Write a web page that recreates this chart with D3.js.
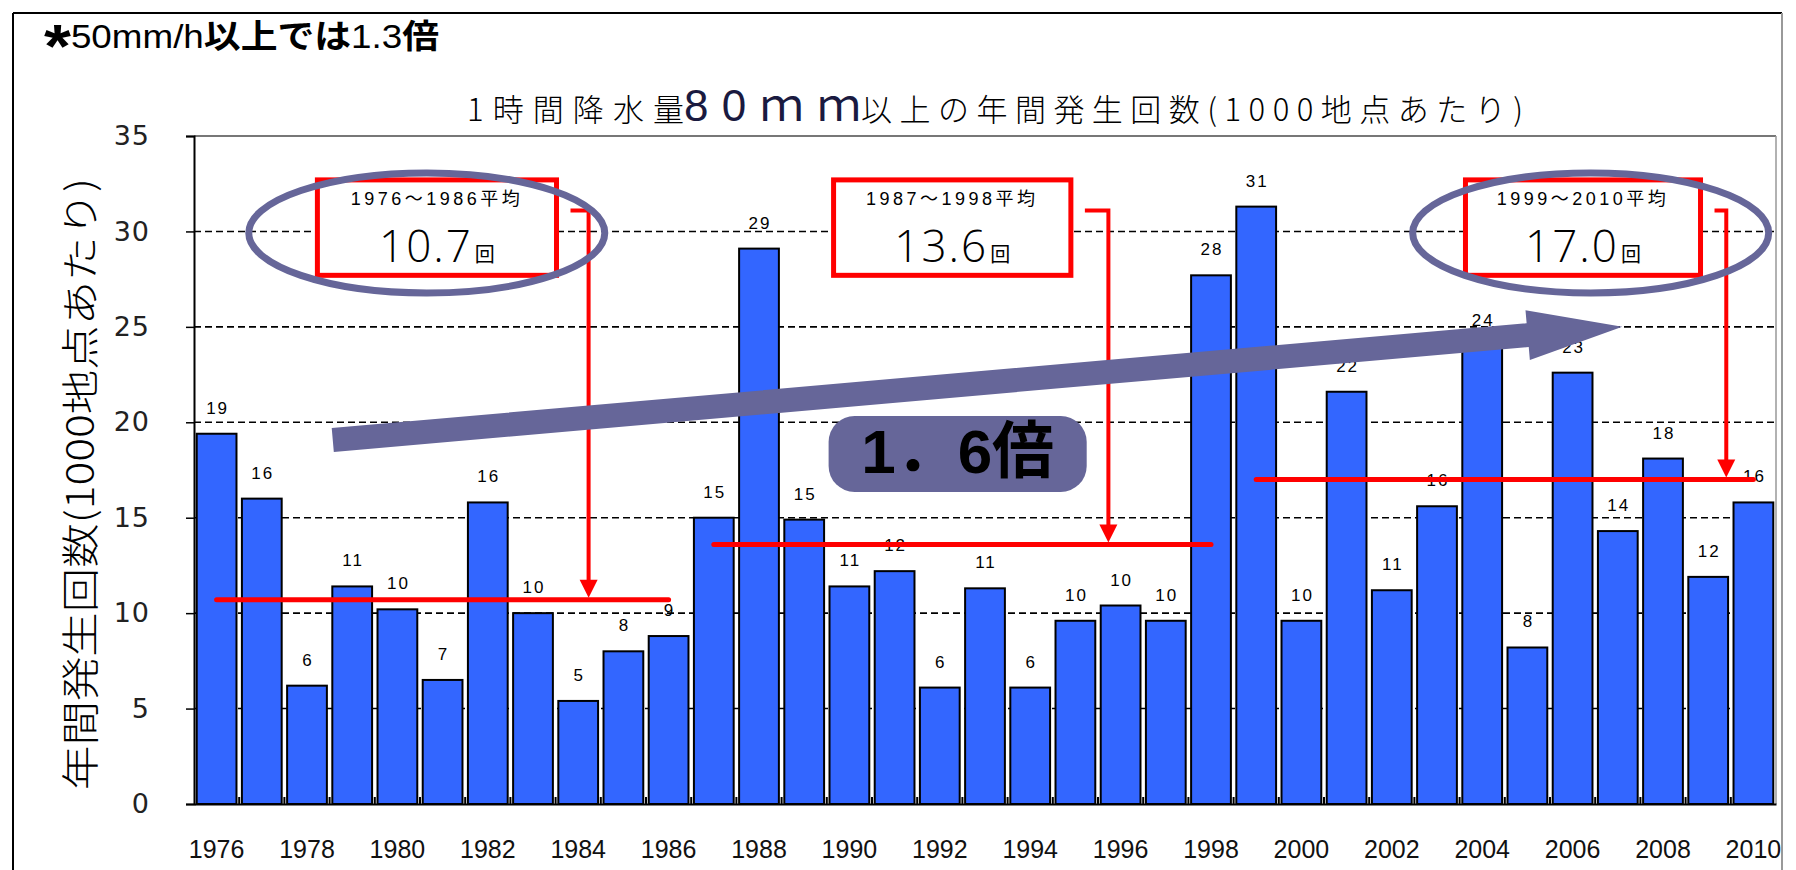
<!DOCTYPE html>
<html><head><meta charset="utf-8">
<script src="https://cdn.jsdelivr.net/npm/d3@7"></script>
<style>body{margin:0;background:#fff;overflow:hidden}</style>
</head><body><svg id="c" width="1796" height="870"></svg>
<script>
// ---------------- data ----------------
const years = [1976,1977,1978,1979,1980,1981,1982,1983,1984,1985,1986,1987,1988,1989,1990,1991,1992,1993,1994,1995,1996,1997,1998,1999,2000,2001,2002,2003,2004,2005,2006,2007,2008,2009,2010];
const values = [19.4,16.0,6.2,11.4,10.2,6.5,15.8,10.0,5.4,8.0,8.8,15.0,29.1,14.9,11.4,12.2,6.1,11.3,6.1,9.6,10.4,9.6,27.7,31.3,9.6,21.6,11.2,15.6,24.0,8.2,22.6,14.3,18.1,11.9,15.8];
const yTicks = [0,5,10,15,20,25,30,35];
const xTickYears = [1976,1978,1980,1982,1984,1986,1988,1990,1992,1994,1996,1998,2000,2002,2004,2006,2008,2010];
const periodLabels = ["1976～1986平均","1987～1998平均","1999～2010平均"];
const periodFrom = [1976,1987,1999];
const periodTo = [1986,1998,2010];
const periodAvg = [10.7,13.6,17.0];
const periodAvgText = ["10.7","13.6","17.0"];
const trendFrom = [1978.57,19.07];   // [year, value]
const trendTo = [2007.1,25.0];
const ratioText = "1．6倍";
const titleParts = ["1時間降水量","80ｍｍ","以上の年間発生回数(1000地点あたり)"];
const yLabel = "年間発生回数(1000地点あたり)";

// ---------------- layout (positions, not data) ----------------
const W = 1796, H = 870;
const plot = {left:194, right:1776, top:136, bottom:804};
const boxYears = [[1978.23,1983.52],[1989.65,1994.9],[2003.63,2008.83]];
const boxVals = [32.7,27.7];
const bentX = [1984.23,1995.73,2009.4];
const bentTopVal = 31.1;
const ellipseCenters = [[1980.65,29.92],[2006.4,29.92]];
const ratioBox = {y0:1989.54,y1:1995.25,v0:20.33,v1:16.35};

const svg = d3.select("#c");
const x = d3.scaleBand().domain(years).range([plot.left, plot.right]).paddingInner(0.12).paddingOuter(0.06);
const y = d3.scaleLinear().domain([0,35]).range([plot.bottom, plot.top]);
const bw = x.bandwidth();
const xc = d3.scaleLinear().domain([years[0], years[years.length-1]]).range([x(years[0])+bw/2, x(years[years.length-1])+bw/2]);

const PURPLE = "#666699", RED = "#ff0000", BLUE = "#3366ff";

// outer frame
svg.append("line").attr("x1",13).attr("y1",13).attr("x2",13).attr("y2",H).attr("stroke","#000").attr("stroke-width",2);
svg.append("line").attr("x1",13).attr("y1",13).attr("x2",1782).attr("y2",13).attr("stroke","#000").attr("stroke-width",2);
svg.append("line").attr("x1",1782).attr("y1",13).attr("x2",1782).attr("y2",H).attr("stroke","#999").attr("stroke-width",2);

// note
const note = svg.append("text").attr("x",44).attr("y",48).attr("font-family","Liberation Sans, Noto Sans CJK JP").attr("fill","#000")
  .attr("textLength",395).attr("lengthAdjust","spacingAndGlyphs");
note.append("tspan").attr("font-size",62).attr("font-weight","bold").attr("dy",19).text("*");
note.append("tspan").attr("font-size",33).attr("dy",-19).text("50mm/h");
note.append("tspan").attr("font-size",33).attr("font-weight","bold").attr("font-family","Noto Sans CJK JP").text("以上では");
note.append("tspan").attr("font-size",33).text("1.3");
note.append("tspan").attr("font-size",33).attr("font-weight","bold").attr("font-family","Noto Sans CJK JP").text("倍");

// title
const tSeg = [[467,684,31],[684,861,44],[861,1523,31]];
titleParts.forEach((t,i)=>{
  svg.append("text").attr("x",tSeg[i][0]).attr("y",121)
    .attr("font-family", i===1 ? "Liberation Sans, Noto Sans CJK JP" : "Noto Sans CJK JP")
    .attr("font-weight", i===1 ? "normal" : 300)
    .attr("font-size",tSeg[i][2]).attr("fill", i===1 ? "#1a1a40" : "#000")
    .attr("textLength",tSeg[i][1]-tSeg[i][0]).attr("lengthAdjust","spacing").text(t);
});

// y label
svg.append("text").attr("transform",`translate(94,${(178+790)/2}) rotate(-90)`)
  .attr("text-anchor","middle").attr("font-family","Noto Sans CJK JP").attr("font-weight",300)
  .attr("font-size",38).attr("textLength",612).attr("lengthAdjust","spacingAndGlyphs").text(yLabel);

// gridlines
svg.append("g").selectAll("line").data(yTicks.filter(v=>v>0 && v<35)).join("line")
  .attr("x1",plot.left).attr("x2",plot.right).attr("y1",d=>y(d)).attr("y2",d=>y(d))
  .attr("stroke","#000").attr("stroke-width",1.6).attr("stroke-dasharray","7,4");

// plot frame top/right
svg.append("line").attr("x1",plot.left).attr("x2",plot.right).attr("y1",plot.top).attr("y2",plot.top).attr("stroke","#777").attr("stroke-width",2);
svg.append("line").attr("x1",plot.right).attr("x2",plot.right).attr("y1",plot.top).attr("y2",plot.bottom).attr("stroke","#999").attr("stroke-width",1.5);

// y axis
const yAxis = svg.append("g").attr("transform",`translate(${plot.left},0)`)
  .call(d3.axisLeft(y).tickValues(yTicks).tickSize(8).tickPadding(36));
yAxis.select(".domain").attr("stroke","#000").attr("stroke-width",2);
yAxis.selectAll(".tick line").attr("stroke","#000").attr("stroke-width",1.5);
yAxis.selectAll(".tick text").attr("font-family","DejaVu Sans").attr("font-size",27).attr("fill","#222")
  .attr("letter-spacing",1);

// bars
svg.append("g").selectAll("rect").data(years).join("rect")
  .attr("x",d=>x(d)).attr("width",bw)
  .attr("y",(d,i)=>y(values[i])).attr("height",(d,i)=>y(0)-y(values[i]))
  .attr("fill",BLUE).attr("stroke","#000").attr("stroke-width",2);

// band boundary ticks
svg.append("g").selectAll("line").data(years.slice(1)).join("line")
  .attr("x1",d=>x(d)-x.step()*x.paddingInner()/2).attr("x2",d=>x(d)-x.step()*x.paddingInner()/2)
  .attr("y1",plot.bottom).attr("y2",plot.bottom-7).attr("stroke","#000").attr("stroke-width",2);

// x axis
const xAxis = svg.append("g").attr("transform",`translate(0,${plot.bottom})`)
  .call(d3.axisBottom(x).tickValues(xTickYears).tickSize(0).tickPadding(0));
xAxis.select(".domain").attr("stroke","#000").attr("stroke-width",2);
xAxis.selectAll(".tick text").attr("y",54).attr("dy",0).attr("font-family","Liberation Sans").attr("font-size",25).attr("fill","#111");

// value labels
svg.append("g").selectAll("text").data(years).join("text")
  .attr("x",d=>x(d)+bw/2+1).attr("y",(d,i)=>y(values[i])-20)
  .attr("text-anchor","middle").attr("font-family","Liberation Sans").attr("font-size",17).attr("letter-spacing",2)
  .attr("fill","#000").text((d,i)=>Math.round(values[i]));

// average lines
svg.append("g").selectAll("line").data(periodAvg).join("line")
  .attr("x1",(d,i)=>xc(periodFrom[i])).attr("x2",(d,i)=>xc(periodTo[i]))
  .attr("y1",d=>y(d)).attr("y2",d=>y(d)).attr("stroke",RED).attr("stroke-width",5).attr("stroke-linecap","round");

// bent red arrows
periodAvg.forEach((a,i)=>{
  const bx = xc(bentX[i]), top = y(bentTopVal), xs = xc(boxYears[i][1]) + 14, tip = y(a) - 2;
  svg.append("path").attr("d",`M${xs},${top} H${bx} V${tip-16}`).attr("fill","none").attr("stroke",RED).attr("stroke-width",4);
  svg.append("path").attr("d",`M${bx-9},${tip-18} L${bx+9},${tip-18} L${bx},${tip} Z`).attr("fill",RED);
});

// boxes
periodAvg.forEach((a,i)=>{
  const x0 = xc(boxYears[i][0]), x1 = xc(boxYears[i][1]), y0 = y(boxVals[0]), y1 = y(boxVals[1]);
  svg.append("rect").attr("x",x0).attr("y",y0).attr("width",x1-x0).attr("height",y1-y0)
    .attr("fill","#fff").attr("stroke",RED).attr("stroke-width",5);
  const cx = (x0+x1)/2;
  svg.append("text").attr("x",cx).attr("y",y0+25).attr("text-anchor","middle")
    .attr("font-family","Liberation Sans, Noto Sans CJK JP").attr("font-size",18).attr("letter-spacing",3.5).attr("fill","#000")
    .text(periodLabels[i]);
  const t = svg.append("text").attr("x",cx).attr("y",y0+82).attr("text-anchor","middle").attr("fill","#000");
  t.append("tspan").attr("font-family","Open Sans, Liberation Sans").attr("font-weight",300).attr("font-size",44).attr("letter-spacing",2).text(periodAvgText[i]);
  t.append("tspan").attr("font-family","Noto Sans CJK JP").attr("font-size",20).attr("dx",2).text("回");
});

// ellipses
ellipseCenters.forEach(c=>{
  svg.append("ellipse").attr("cx",xc(c[0])).attr("cy",y(c[1])).attr("rx",178).attr("ry",60)
    .attr("fill","none").attr("stroke",PURPLE).attr("stroke-width",7);
});

// big trend arrow
{
  const x0 = xc(trendFrom[0]), y0 = y(trendFrom[1]), x1 = xc(trendTo[0]), y1 = y(trendTo[1]);
  const ang = Math.atan2(y1-y0, x1-x0), len = Math.hypot(x1-x0, y1-y0);
  const sw = 12, hw = 25, hl = 95;
  const pts = [[0,-sw],[len-hl,-sw],[len-hl,-hw],[len,0],[len-hl,hw],[len-hl,sw],[0,sw]];
  svg.append("polygon").attr("points",pts.map(p=>p.join(",")).join(" "))
    .attr("transform",`translate(${x0},${y0}) rotate(${ang*180/Math.PI})`).attr("fill",PURPLE);
}

// ratio box
{
  const x0 = xc(ratioBox.y0), x1 = xc(ratioBox.y1), y0 = y(ratioBox.v0), y1 = y(ratioBox.v1);
  svg.append("rect").attr("x",x0).attr("y",y0).attr("width",x1-x0).attr("height",y1-y0).attr("rx",26).attr("ry",26).attr("fill",PURPLE);
  svg.append("text").attr("x",(x0+x1)/2).attr("y",y1-19).attr("text-anchor","middle")
    .attr("font-family","Liberation Sans, Noto Sans CJK JP").attr("font-weight","bold").attr("font-size",62).attr("fill","#000")
    .text(ratioText);
}
</script></body></html>
